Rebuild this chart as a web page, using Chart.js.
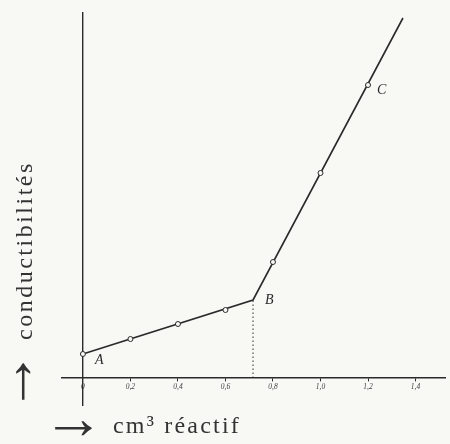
<!DOCTYPE html>
<html>
<head>
<meta charset="utf-8">
<script src="https://cdn.jsdelivr.net/npm/chart.js@4.4.1/dist/chart.umd.min.js"></script>
<style>
  html, body { margin: 0; padding: 0; background: #f8f8f5; }
  #wrap { width: 450px; height: 444px; }
</style>
</head>
<body>
<div id="wrap"><canvas id="chart" width="450" height="444"></canvas></div>
<script>
// measured points: cm3 of reagent added, conductivity (arbitrary units)
const volumes = [0, 0.2, 0.4, 0.6, 0.8, 1.0, 1.2];
const conductivities = [2.4, 3.9, 5.4, 6.8, 11.6, 20.5, 29.3];

// the two straight branches, through A and B and on past C
const lineVolumes = [0, 0.716, 1.347];
const lineConductivities = [2.4, 7.8, 36.0];

// letters written next to the curve
const markNames = ["A", "B", "C"];
const markVolumes = [0, 0.716, 1.2];
const markConductivities = [2.4, 7.8, 29.3];

const tickValues = [0, 0.2, 0.4, 0.6, 0.8, 1.0, 1.2, 1.4];
const tickLabels = ["0", "0,2", "0,4", "0,6", "0,8", "1,0", "1,2", "1,4"];

const xTitle = "cm³ réactif";
const yTitle = "conductibilités";
const arrow = "→";

const ink = "#2a2a2a";
const paper = "#f8f8f5";
const serif = "'Liberation Serif', 'DejaVu Serif', serif";

const toPoints = (xs, ys) => xs.map((v, i) => ({ x: v, y: ys[i] }));

// arrow glyph stretched to a given length, its shaft centred on y = 0
function drawArrow(ctx, len) {
  ctx.font = "40px " + serif;
  ctx.textAlign = "left";
  ctx.textBaseline = "alphabetic";
  ctx.letterSpacing = "0px";
  const m = ctx.measureText(arrow);
  const w = m.actualBoundingBoxRight + m.actualBoundingBoxLeft;
  const mid = (m.actualBoundingBoxAscent - m.actualBoundingBoxDescent) / 2;
  ctx.save();
  ctx.scale(len / w, 1.5);
  ctx.fillText(arrow, m.actualBoundingBoxLeft, mid);
  ctx.restore();
}

// letters A B C and the two axis titles
const annotations = {
  id: "annotations",
  afterDraw(chart) {
    const { ctx, scales: { x, y } } = chart;
    ctx.save();
    ctx.fillStyle = ink;

    ctx.font = "italic 14px " + serif;
    ctx.textBaseline = "middle";
    const offsets = [[12, 6], [12, 0], [9, 5]];
    markNames.forEach((name, i) => {
      ctx.fillText(name,
        x.getPixelForValue(markVolumes[i]) + offsets[i][0],
        y.getPixelForValue(markConductivities[i]) + offsets[i][1]);
    });

    ctx.fillStyle = "#333";
    // x title
    ctx.save();
    ctx.translate(55, 427);
    drawArrow(ctx, 37);
    ctx.restore();
    ctx.font = "24px " + serif;
    ctx.letterSpacing = "2.2px";
    ctx.textBaseline = "alphabetic";
    ctx.fillText(xTitle, 113, 433);

    // y title, written bottom to top
    ctx.save();
    ctx.translate(22, 400);
    ctx.rotate(-Math.PI / 2);
    drawArrow(ctx, 37);
    ctx.restore();

    ctx.save();
    ctx.translate(32, 340);
    ctx.rotate(-Math.PI / 2);
    ctx.font = "24px " + serif;
    ctx.letterSpacing = "2.5px";
    ctx.textBaseline = "alphabetic";
    ctx.fillText(yTitle, 0, 0);
    ctx.restore();

    ctx.restore();
  }
};

new Chart(document.getElementById("chart"), {
  type: "scatter",
  data: {
    datasets: [
      {
        data: toPoints(lineVolumes, lineConductivities),
        showLine: true,
        borderColor: ink,
        borderWidth: 1.6,
        pointRadius: 0,
        order: 2
      },
      {
        // dotted drop from B to the axis
        data: toPoints([markVolumes[1], markVolumes[1]], [0, markConductivities[1]]),
        showLine: true,
        borderColor: ink,
        borderWidth: 1,
        borderDash: [1.5, 2.5],
        pointRadius: 0,
        order: 1
      },
      {
        data: toPoints(volumes, conductivities),
        showLine: false,
        pointRadius: 2.5,
        pointBackgroundColor: paper,
        pointBorderColor: ink,
        pointBorderWidth: 1,
        order: 0
      }
    ]
  },
  options: {
    responsive: false,
    animation: false,
    layout: { padding: { left: 62, right: 5, top: 13, bottom: 39 } },
    plugins: {
      legend: { display: false },
      tooltip: { enabled: false }
    },
    scales: {
      x: {
        type: "linear",
        position: { y: 0 },
        min: -0.088,
        max: 1.524,
        afterBuildTicks: (scale) => {
          scale.ticks = tickValues.map((v) => ({ value: v }));
        },
        ticks: {
          callback: (v, i) => tickLabels[i],
          autoSkip: false,
          maxRotation: 0,
          padding: 2,
          color: "#444",
          font: { family: serif, size: 7.5, style: "italic" }
        },
        grid: { drawOnChartArea: false, tickLength: 3, color: ink },
        border: { color: ink, width: 1.4 }
      },
      y: {
        type: "linear",
        position: { x: 0 },
        min: -2.7,
        max: 36.5,
        ticks: { display: false },
        grid: { drawOnChartArea: false, drawTicks: false },
        border: { color: ink, width: 1.4 }
      }
    }
  },
  plugins: [annotations]
});
</script>
</body>
</html>
